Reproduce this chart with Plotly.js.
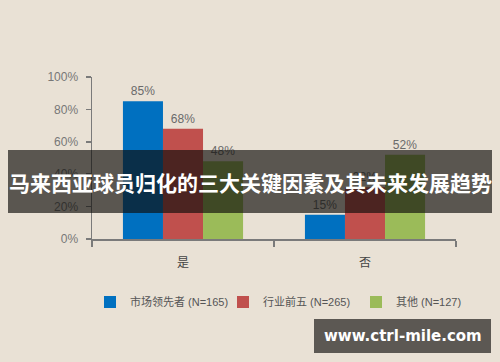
<!DOCTYPE html>
<html><head><meta charset="utf-8">
<script src="https://cdn.plot.ly/plotly-3.0.1.min.js"></script>
<style>html,body{margin:0;padding:0;background:#e9e1d5;}#c{width:500px;height:362px;}</style>
</head><body><div id="c"></div>
<script>
const categories = ['是', '否'];
const seriesNames = ['市场领先者 (N=165)', '行业前五 (N=265)', '其他 (N=127)'];
const leaders = [85, 15];
const top5 = [68, 32];
const others = [48, 52];
const colors = ['#0070c0', '#c0504d', '#9bbb59'];
const yTicks = [0, 20, 40, 60, 80, 100];
const titleText = '马来西亚球员归化的三大关键因素及其未来发展趋势';
const watermark = 'www.ctrl-mile.com';

const font = "'Liberation Sans Narrow', 'Liberation Sans', Arial, 'Noto Sans CJK SC', sans-serif";
const vals = [leaders, top5, others];
const traces = vals.map((v, i) => ({
  type: 'bar', x: categories, y: v, name: seriesNames[i],
  marker: {color: colors[i]},
  text: v.map(d => d + '%'), textposition: 'outside', cliponaxis: false,
  textfont: {color: '#6a6a6a', size: 12, family: font}
}));

const L = 92, T = 77, W = 364, H = 162;
const px = x => (x - L) / W;
const py = y => (T + H - y) / H;

const layout = {
  width: 500, height: 362,
  margin: {l: L, r: 500 - L - W, t: T, b: 362 - T - H},
  paper_bgcolor: '#e9e1d5', plot_bgcolor: '#e9e1d5',
  barmode: 'group', bargap: 0.34, bargroupgap: 0,
  font: {family: font, color: '#6a6a6a', size: 12},
  showlegend: true,
  legend: {orientation: 'h', x: px(90), xanchor: 'left', y: py(302), yanchor: 'middle',
    font: {size: 11, color: '#555', family: font}, bgcolor: 'rgba(0,0,0,0)', itemwidth: 30,
    entrywidth: 88, entrywidthmode: 'pixels'},
  xaxis: {showline: true, linecolor: '#7a7a7a', linewidth: 1.5, ticks: 'outside',
    tickson: 'boundaries', ticklen: 6, tickcolor: '#7a7a7a', tickwidth: 1.5,
    ticklabelstandoff: 12,
    tickfont: {size: 12, color: '#444'}, fixedrange: true},
  yaxis: {range: [0, 100], tickvals: yTicks, ticktext: yTicks.map(t => t + '%'),
    showgrid: false, zeroline: false, showline: true, linecolor: '#7a7a7a', linewidth: 1.5,
    ticks: 'outside', ticklen: 5, tickcolor: '#7a7a7a', tickwidth: 1.5, ticklabelstandoff: 5,
    tickfont: {size: 12, color: '#777'}, fixedrange: true},
  shapes: [
    {type: 'rect', xref: 'paper', yref: 'paper', x0: px(8), x1: px(492), y0: py(213), y1: py(150),
      fillcolor: 'rgba(15,13,10,0.66)', line: {width: 0}, layer: 'above'},
    {type: 'rect', xref: 'paper', yref: 'paper', x0: px(314), x1: px(491), y0: py(353), y1: py(319),
      fillcolor: '#5c5853', line: {width: 0}, layer: 'above'}
  ],
  annotations: [
    {xref: 'paper', yref: 'paper', x: px(250), y: py(182), xanchor: 'center', yanchor: 'middle',
      text: '<b>' + titleText + '</b>', showarrow: false,
      font: {family: "'Noto Sans CJK SC', sans-serif", size: 21, color: '#ffffff'}},
    {xref: 'paper', yref: 'paper', x: px(402.5), y: py(336), xanchor: 'center', yanchor: 'middle',
      text: '<b>' + watermark + '</b>', showarrow: false,
      font: {family: "'DejaVu Sans', sans-serif", size: 15, color: '#ffffff'}}
  ]
};
Plotly.newPlot('c', traces, layout, {displayModeBar: false, staticPlot: true});
</script></body></html>
